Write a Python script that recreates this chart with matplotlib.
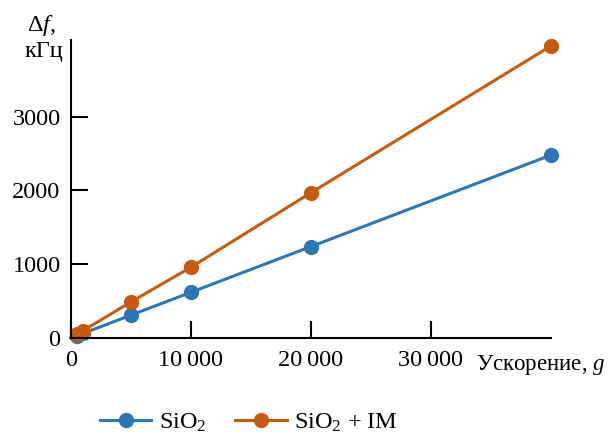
import matplotlib
matplotlib.use("Agg")
import matplotlib.pyplot as plt
from matplotlib.lines import Line2D

plt.rcParams['font.family'] = 'serif'
plt.rcParams['font.serif'] = ['Liberation Serif', 'DejaVu Serif']
plt.rcParams['mathtext.fontset'] = 'custom'
plt.rcParams['mathtext.rm'] = 'Liberation Serif'
plt.rcParams['mathtext.it'] = 'Liberation Serif:italic'

accel = [500, 1000, 5000, 10000, 20000, 40000]
sio2 = [30, 62, 310, 620, 1240, 2480]
sio2_im = [50, 99, 490, 960, 1970, 3960]
xticks = [0, 10000, 20000, 30000]
xticklabels = ["0", "10\u2009000", "20\u2009000", "30\u2009000"]
yticks = [0, 1000, 2000, 3000]
yticklabels = ["0", "1000", "2000", "3000"]

blue = "#2e75b6"
orange = "#c55a11"
FS = 17.5

fig = plt.figure(figsize=(6.09, 4.34), dpi=100)
ax = fig.add_axes([71/609, 1-338/434, (551-71)/609, (338-40)/434])

ax.plot([0] + accel, [0] + sio2, color=blue, lw=2.2)
ax.plot(accel, sio2, color=blue, lw=0, marker='o', ms=10)
ax.plot([0] + accel, [0] + sio2_im, color=orange, lw=2.2)
ax.plot(accel, sio2_im, color=orange, lw=0, marker='o', ms=10)

ax.set_xlim(0, 40000)
ax.set_ylim(0, 4040)
ax.spines['top'].set_visible(False)
ax.spines['right'].set_visible(False)
for s in ['left', 'bottom']:
    ax.spines[s].set_linewidth(1.5)
ax.set_xticks(xticks)
ax.set_xticklabels(xticklabels)
ax.set_yticks(yticks)
ax.set_yticklabels(yticklabels)
ax.tick_params(axis='both', direction='in', length=12, width=1.5, labelsize=FS)
ax.tick_params(axis='x', pad=9)
ax.tick_params(axis='y', pad=7.5)
for l in ax.lines:
    l.set_clip_on(False)

fig.text(27/609, 1-25/434, "Δ$f$,", fontsize=FS, ha='left', va='center')
fig.text(25/609, 1-52/434, "кГц", fontsize=FS, ha='left', va='center')
fig.text(605/609, 1-365/434, "Ускорение, $g$", fontsize=16.5, ha='right', va='center')

handles = [Line2D([], [], color=blue, lw=2.2, marker='o', ms=10),
           Line2D([], [], color=orange, lw=2.2, marker='o', ms=10)]
fig.legend(handles, ["SiO$_2$", "SiO$_2$ + IM"], loc='center', bbox_to_anchor=(249/609, 1-423/434),
           ncol=2, frameon=False, fontsize=FS, handlelength=2.1, columnspacing=1.2,
           handletextpad=0.3, borderpad=0, borderaxespad=0)

fig.savefig("out.png", dpi=100)
